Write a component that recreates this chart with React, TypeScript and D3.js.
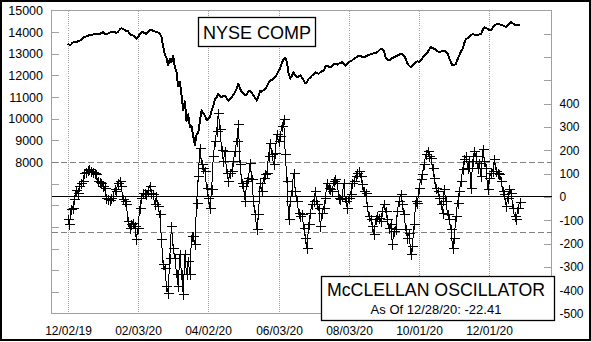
import React, { useEffect, useRef } from "react";
import * as d3 from "d3";

const W = 591;
const H = 342;

// trading calendar of the chart (NYSE sessions)
const firstDay = "2019-12-02";
const lastDay = "2020-12-28";
const marketHolidays = [
  "2019-12-25", "2020-01-01", "2020-01-20", "2020-02-17", "2020-04-10",
  "2020-05-25", "2020-07-03", "2020-09-07", "2020-11-26", "2020-12-25",
];
const gridDates = ["12/02/19", "02/03/20", "04/02/20", "06/03/20", "08/03/20", "10/01/20", "12/01/20"];

// NYSE Composite daily close (left axis)
const nyseComp = [
  13475, 13410, 13430, 13520, 13560, 13540, 13570, 13590, 13650, 13740,
  13770, 13800, 13820, 13870, 13880, 13890, 13900, 13910, 13930, 13920,
  13950, 14000, 13940, 13900, 13930, 13970, 14000, 14030, 14000, 13960,
  14020, 14110, 14180, 14150, 14110, 14060, 14040, 13900, 13880, 13850,
  13780, 13690, 13760, 13900, 13980, 14000, 13960, 13920, 14030, 14100,
  14110, 14050, 14040, 14000, 13980, 13920, 13780, 13350, 12980, 12800,
  12460, 12780, 12600, 12900, 12400, 12150, 11500, 11700, 11100, 10400,
  10800, 9900, 10200, 9600, 9650, 9200, 8780, 9250, 9350, 9900,
  10380, 10240, 10150, 9920, 10000, 10050, 10380, 10600, 10900, 11000,
  11150, 11050, 10990, 11050, 11070, 10950, 10840, 10900, 10990, 11100,
  11230, 11400, 11610, 11400, 11230, 11150, 11070, 11150, 11250, 11300,
  11200, 11070, 10950, 10840, 11050, 11300, 11250, 11320, 11380, 11500,
  11650, 11770, 11800, 11850, 11920, 12050, 12200, 12350, 12600, 12750,
  12810, 12600, 12100, 11850, 12000, 12150, 12000, 11920, 11950,
  12000, 11900, 11770, 11640, 11700, 11850, 11900, 12000, 12050, 12150,
  12100, 12080, 12150, 12200, 12230, 12400, 12460, 12400, 12380, 12450,
  12540, 12520, 12500, 12550, 12580, 12610, 12550, 12460, 12550, 12610,
  12650, 12700, 12770, 12820, 12870, 12920, 12900, 12860, 12840, 12880,
  12920, 12950, 12980, 13000, 13020, 13050, 13070, 13150, 13230, 13200,
  13150, 12840, 12750, 12690, 12750, 12800, 12840, 12880, 12920, 12960,
  13000, 12980, 12920, 12750, 12540, 12450, 12380, 12450, 12550, 12610,
  12650, 12620, 12690, 12800, 12920, 13000, 13070, 13200, 13300, 13260,
  13230, 13180, 13120, 13070, 13100, 13130, 13150, 13080, 13000, 12800,
  12610, 12460, 12480, 12540, 12750, 12920, 13100, 13230, 13500, 13690,
  13720, 13770, 13850, 13920, 13880, 13850, 13870, 13900, 13920, 14100,
  14230, 14200, 14150, 14100, 14080, 14200, 14310, 14350, 14390, 14360,
  14330, 14310, 14270, 14230, 14330, 14400, 14460, 14400, 14350, 14310,
  14340, 14350,
];

// McClellan Oscillator daily values (right axis)
const mcclellan = [
  -96, -117, -51, -46, -10, 30, 18, 45, 61, 69,
  104, 108, 114, 119, 112, 108, 104, 97, 69, 65,
  61, 47, 37, -3, -10, -12, -6, 4, 33, 26,
  61, 69, 47, -10, -17, -31, -103, -132, -117, -110,
  -124, -181, -132, -46, -3, 18, 15, 12, 29, 47,
  18, 12, -31, 4, -40, -74, -181, -289, -303, -382,
  -410, -260, -124, -217, -260, -330, -382, -246, -332, -417,
  -246, -332, -275, -332, -167, -167, -203, -24, 90, 211,
  140, 126, 112, 40, -3, -46, 33, 176, 240, 283,
  362, 290, 200, 154, 197, 104, 69, 104, 112, 154,
  197, 240, 312, 140, 61, 47, -17, 69, 83, 147,
  76, -17, -74, -139, -74, 61, 26, 83, 97, 104,
  176, 233, 183, 140, 190, 269, 240, 262, 305, 333,
  183, 69, -96, -17, 26, 104, 26, -17, -67, -82,
  -74, -132, -175, -217, -117, -67, -31, -17, 26, -31,
  -46, -124, -67, -46, -3, 61, 40, 33, 26, 69,
  76, 61, -3, -10, 4, 61, -17, -46, -3, 12,
  61, 69, 90, 104, 112, 90, 54, 26, 18, -39,
  -82, -96, -124, -160, -96, -82, -89, -103, -60, -31,
  -60, -96, -132, -117, -203, -146, -139, -60, -17, 12,
  -31, -74, -139, -175, -153, -246, -210, -117, -17, -24,
  40, 76, 97, 140, 183, 197, 176, 169, 126, 83,
  40, 26, -3, -31, -67, 33, -17, -74, -96, -139,
  -217, -175, -82, -24, 26, 69, 119, 161, 176, 126,
  154, 40, 154, 197, 176, 126, 147, 90, 205, 154,
  126, 33, 83, 104, 112, 161, 112, 104, 97, 69,
  26, 12, -39, -3, 33, 18, -46, -82, -96, -46,
  -22.41,
];

const leftLabels = [15000, 14000, 13000, 12000, 11000, 10000, 9000, 8000];
const rightLabels = [400, 300, 200, 100, 0, -100, -200, -300, -400, -500];
const bandLevels = [150, -150];
const lastDateLabel = "12/28/20";

const FONT = "'Liberation Sans', Arial, sans-serif";
const GRAY = "#a0a0a0";

const App = () => {
  const svgRef = useRef(null);

  useEffect(() => {
    document.body.style.margin = "0";
    const svg = d3.select(svgRef.current);
    svg.selectAll("*").remove();

    const parse = d3.timeParse("%Y-%m-%d");
    const fmtKey = d3.timeFormat("%Y-%m-%d");
    const fmtLabel = d3.timeFormat("%m/%d/%y");
    const days = d3.timeDay
      .range(parse(firstDay), d3.timeDay.offset(parse(lastDay), 1))
      .filter(d => d.getDay() !== 0 && d.getDay() !== 6 && !marketHolidays.includes(fmtKey(d)));
    const dayIndex = new Map(days.map((d, i) => [fmtLabel(d), i]));

    const plot = { left: 51.5, top: 10.5, right: 551.5, bottom: 313.5 };

    const x = d3.scaleLinear()
      .domain([-9.7, days.length - 1 + 19.1])
      .range([plot.left, plot.right]);
    const yL = d3.scaleLinear().domain([1000, 15000]).range([plot.bottom, plot.top]);
    const yR = d3.scaleLinear().domain([-500, 800]).range([plot.bottom, plot.top]);

    // outer frame
    svg.append("rect")
      .attr("x", 1).attr("y", 1).attr("width", W - 2).attr("height", H - 3)
      .attr("fill", "#fff").attr("stroke", "#000").attr("stroke-width", 2);

    const g = svg.append("g").attr("shape-rendering", "crispEdges");

    // vertical dotted date lines
    gridDates.forEach(lbl => {
      const xi = Math.round(x(dayIndex.get(lbl))) + 0.5;
      g.append("line")
        .attr("x1", xi).attr("x2", xi).attr("y1", plot.top).attr("y2", plot.bottom)
        .attr("stroke", GRAY).attr("stroke-dasharray", "1,1");
      svg.append("text")
        .attr("x", xi).attr("y", 335)
        .attr("text-anchor", "middle")
        .attr("font-family", FONT).attr("font-size", 12)
        .text(lbl);
    });

    // plot box
    g.append("rect")
      .attr("x", plot.left).attr("y", plot.top)
      .attr("width", plot.right - plot.left).attr("height", plot.bottom - plot.top)
      .attr("fill", "none").attr("stroke", GRAY);

    // left axis ticks + labels
    d3.range(2000, 15000, 1000).forEach(v => {
      const yy = Math.round(yL(v)) + 0.5;
      g.append("line").attr("x1", plot.left).attr("x2", plot.left + 7)
        .attr("y1", yy).attr("y2", yy).attr("stroke", GRAY);
    });
    leftLabels.forEach(v => {
      svg.append("text")
        .attr("x", 43).attr("y", yL(v)).attr("dy", "0.36em")
        .attr("text-anchor", "end")
        .attr("font-family", FONT).attr("font-size", 12.5)
        .text(v);
    });

    // right axis ticks + labels
    d3.range(-400, 800, 100).forEach(v => {
      const yy = Math.round(yR(v)) + 0.5;
      g.append("line").attr("x1", plot.right - 8).attr("x2", plot.right)
        .attr("y1", yy).attr("y2", yy).attr("stroke", GRAY);
    });
    rightLabels.forEach(v => {
      svg.append("text")
        .attr("x", 559.5).attr("y", yR(v)).attr("dy", "0.36em")
        .attr("font-family", FONT).attr("font-size", 12)
        .text(v);
    });

    // overbought / oversold bands
    bandLevels.forEach(v => {
      const yy = Math.round(yR(v)) + 0.5;
      g.append("line").attr("x1", plot.left).attr("x2", plot.right)
        .attr("y1", yy).attr("y2", yy)
        .attr("stroke", "#808080").attr("stroke-dasharray", "6,3");
    });

    // zero line
    const y0 = Math.round(yR(0)) - 0.5;
    g.append("line").attr("x1", plot.left).attr("x2", plot.right)
      .attr("y1", y0).attr("y2", y0).attr("stroke", "#000").attr("stroke-width", 1.3);

    // oscillator line + crosses
    const oscLine = d3.line().x((d, i) => x(i)).y(d => yR(d));
    g.append("path")
      .attr("d", oscLine(mcclellan))
      .attr("fill", "none").attr("stroke", "#000").attr("stroke-width", 1);
    const cross = mcclellan.map((v, i) => {
      const cx = Math.round(x(i)) + 0.5;
      const cy = Math.round(yR(v)) + 0.5;
      return `M${cx - 5},${cy}H${cx + 5}M${cx},${cy - 5}V${cy + 5}`;
    }).join("");
    g.append("path").attr("d", cross).attr("fill", "none").attr("stroke", "#000");

    // NYSE composite line
    const nyLine = d3.line().x((d, i) => x(i)).y(d => yL(d));
    g.append("path")
      .attr("d", nyLine(nyseComp))
      .attr("fill", "none").attr("stroke", "#000").attr("stroke-width", 2)
      .attr("stroke-linejoin", "round");

    // NYSE COMP label
    svg.append("rect")
      .attr("x", 198.5).attr("y", 17.5).attr("width", 117).attr("height", 29)
      .attr("fill", "#fff").attr("stroke", "#000").attr("stroke-width", 1.3);
    svg.append("text")
      .attr("x", 257).attr("y", 38.5).attr("text-anchor", "middle")
      .attr("font-family", FONT).attr("font-size", 18)
      .text("NYSE COMP");

    // oscillator label box
    svg.append("rect")
      .attr("x", 321.5).attr("y", 276.5).attr("width", 233).attr("height", 44)
      .attr("fill", "#fff").attr("stroke", "#000").attr("stroke-width", 1.3);
    svg.append("text")
      .attr("x", 436).attr("y", 296).attr("text-anchor", "middle")
      .attr("font-family", FONT).attr("font-size", 19)
      .attr("textLength", 218).attr("lengthAdjust", "spacingAndGlyphs")
      .text("McCLELLAN OSCILLATOR");
    svg.append("text")
      .attr("x", 436).attr("y", 314).attr("text-anchor", "middle")
      .attr("font-family", FONT).attr("font-size", 13)
      .text(`As Of ${lastDateLabel}: ${mcclellan[mcclellan.length - 1]}`);
  }, []);

  return <svg ref={svgRef} width={W} height={H} style={{ display: "block" }} />;
};

export default App;
